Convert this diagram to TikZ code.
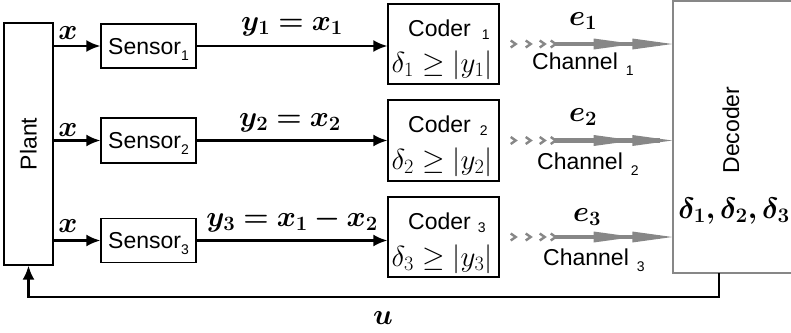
\RequirePackage{fix-cm}
\documentclass[tikz,border=0pt]{standalone}
\usepackage[no-math]{fontspec}
\setmainfont{Liberation Sans}
\usepackage{amsmath,bm}
\usetikzlibrary{arrows.meta,decorations.markings}
\definecolor{chgray}{RGB}{135,135,135}
\newcommand\lsub[1]{\raisebox{-6pt}{\fontsize{14}{14}\selectfont #1}}
\newcommand\csub[1]{\raisebox{-3pt}{\fontsize{14}{14}\selectfont #1}}
\tikzset{
  box/.style={draw, line width=1.4pt, inner sep=0pt},
  txt/.style={font=\fontsize{23}{26}\selectfont, inner sep=0pt},
  mth/.style={font=\fontsize{29}{32}\selectfont, inner sep=0pt},
  arr/.style={line width=2.2pt, -{Latex[length=14pt,width=12pt]}},
  chevron/.style={draw=chgray, line width=2.4pt, shorten <=0pt, shorten >=0pt},
  barb/.style={fill=chgray, draw=none, shorten <=0pt, shorten >=0pt},
  chan/.style={draw=chgray, line width=4.5pt, shorten <=54pt, shorten >=12pt,
    postaction={decorate, decoration={markings,
      mark=at position 16pt with {\draw[chevron] (-5pt,3.5pt) -- (0pt,0pt) -- (-5pt,-3.5pt);},
      mark=at position 31pt with {\draw[chevron] (-5pt,3.5pt) -- (0pt,0pt) -- (-5pt,-3.5pt);},
      mark=at position 45pt with {\draw[chevron] (-5pt,3.5pt) -- (0pt,0pt) -- (-5pt,-3.5pt);},
      mark=at position 56pt with {\draw[chevron] (-5pt,3.5pt) -- (0pt,0pt) -- (-5pt,-3.5pt);},
      mark=at position 134pt with {\path[barb] (-40pt,5.5pt) -- (0pt,0pt) -- (-40pt,-5.5pt) -- cycle;},
      mark=at position 1 with {\path[barb] (-40pt,5.5pt) -- (0pt,0pt) -- (-40pt,-5.5pt) -- cycle;}
    }}}
}
\begin{document}
\begin{tikzpicture}[x=1pt,y=-1pt]
\useasboundingbox (0,0) rectangle (791,332);
\clip (0,0) rectangle (791,332);
% plant
\node[box, minimum width=49pt, minimum height=242pt] (plant) at (28.5,144) {};
\node[txt, rotate=90] (plantlbl) at (28.5,144) {Plant};
% decoder
\node[draw=chgray, line width=1.4pt, minimum width=160pt, minimum height=272pt, inner sep=0pt] (dec) at (753,137) {};
\node[txt, rotate=90] (declbl) at (731,130) {Decoder};
\node[font=\fontsize{29.5}{32}\selectfont, inner sep=0pt] (decd) at (734,211) {$\bm{\delta_1, \delta_2, \delta_3}$};
% sensors
\node[box, txt, minimum width=95pt, minimum height=44pt, text height=16pt, text depth=0pt] (s1) at (148.5,46) {Sensor\lsub{1}};
\node[box, txt, minimum width=95pt, minimum height=45pt, text height=16pt, text depth=0pt] (s2) at (148.5,140.5) {Sensor\lsub{2}};
\node[box, txt, minimum width=95pt, minimum height=44pt, text height=16pt, text depth=0pt] (s3) at (148.5,240.5) {Sensor\lsub{3}};
% coders
\node[box, minimum width=111pt, minimum height=80pt] (c1) at (443.5,44) {};
\node[box, minimum width=111pt, minimum height=81pt] (c2) at (443.5,140.5) {};
\node[box, minimum width=111pt, minimum height=80pt] (c3) at (443.5,237) {};
\node[txt, anchor=base west] (c1t) at (408,36) {Coder\hspace{11pt}\csub{1}};
\node[txt, anchor=base west] (c2t) at (408,132) {Coder\hspace{9pt}\csub{2}};
\node[txt, anchor=base west] (c3t) at (408,229) {Coder\hspace{7pt}\csub{3}};
\node[mth] (c1m) at (442,65) {$\delta_1 \geq |y_1|$};
\node[mth] (c2m) at (442,162) {$\delta_2 \geq |y_2|$};
\node[mth] (c3m) at (442,259) {$\delta_3 \geq |y_3|$};
% plant -> sensors
\draw[arr] (s1.west -| plant.east) -- (s1.west);
\draw[arr] (s2.west -| plant.east) -- (s2.west);
\draw[arr] (s3.west -| plant.east) -- (s3.west);
\node[mth] (x1) at (68,33) {$\bm{x}$};
\node[mth] (x2) at (68,130) {$\bm{x}$};
\node[mth] (x3) at (68,226) {$\bm{x}$};
% sensors -> coders
\draw[arr] (s1.east) -- (s1.east -| c1.west);
\draw[arr] (s2.east) -- (s2.east -| c2.west);
\draw[arr] (s3.east) -- (s3.east -| c3.west);
\node[mth] (y1) at (292,27) {$\bm{y_1 = x_1}$};
\node[mth] (y2) at (290,123) {$\bm{y_2 = x_2}$};
\node[mth] (y3) at (292,220) {$\bm{y_3 = x_1 - x_2}$};
% channels
\path[chan] (c1.east) -- (c1.east -| dec.west);
\path[chan] (c2.east) -- (c2.east -| dec.west);
\path[chan] (c3.east) -- (c3.east -| dec.west);
\node[mth] (e1) at (583,21) {$\bm{e_1}$};
\node[mth] (e2) at (583,117) {$\bm{e_2}$};
\node[mth] (e3) at (587,217) {$\bm{e_3}$};
\node[txt, anchor=base west] (ch1) at (532,69) {Channel\hspace{8pt}\lsub{1}};
\node[txt, anchor=base west] (ch2) at (537,169) {Channel\hspace{8pt}\lsub{2}};
\node[txt, anchor=base west] (ch3) at (543,265) {Channel\hspace{8pt}\lsub{3}};
% feedback
\coordinate (fb) at (719,273);
\draw[arr] (fb) -- ++(0,24) -| (plant.south);
\node[mth] (u) at (383,318) {$\bm{u}$};
\end{tikzpicture}
\end{document}
